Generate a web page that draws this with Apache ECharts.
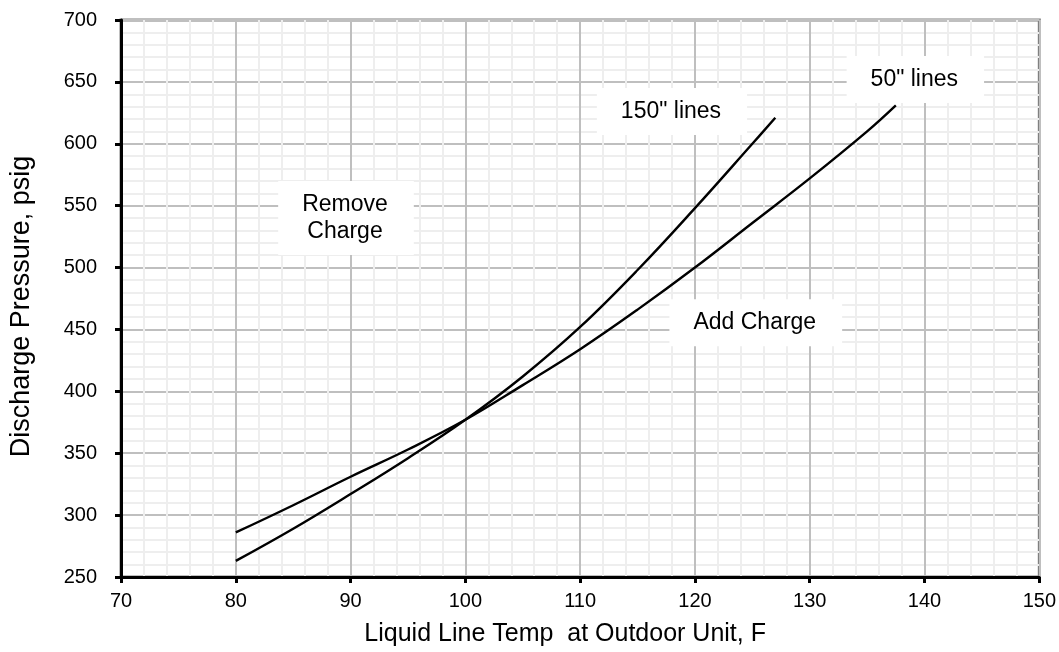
<!DOCTYPE html>
<html>
<head>
<meta charset="utf-8">
<script src="https://cdn.jsdelivr.net/npm/echarts@6/dist/echarts.min.js"></script>
<style>
html,body{margin:0;padding:0;background:#fff;}
#chart{width:1059px;height:652px;}
</style>
</head>
<body>
<div id="chart"></div>
<script>
// Data
var temps50 = [80, 85, 90, 95, 100, 105, 110, 115, 120, 125, 130, 135, 137.5];
var press50 = [286, 308, 331, 353, 377, 405, 434, 466, 500, 536, 572, 610, 631];
var temps150 = [80, 85, 90, 95, 100, 105, 110, 115, 120, 125, 127];
var press150 = [263, 289, 317, 346, 377, 412, 452, 498, 548, 600, 621];
var xTicks = [70, 80, 90, 100, 110, 120, 130, 140, 150];
var yTicks = [250, 300, 350, 400, 450, 500, 550, 600, 650, 700];
var annotations = [
  {text: '150" lines', x: 118.0, y: 626},
  {text: '50" lines', x: 139.2, y: 652},
  {text: 'Remove\nCharge', x: 89.6, y: 540},
  {text: 'Add Charge', x: 125.3, y: 455.5}
];

function pairs(xs, ys) { return xs.map(function (x, i) { return [x, ys[i]]; }); }

var FONT = '"Liberation Sans", Arial, sans-serif';
var chart = echarts.init(document.getElementById('chart'), null, {renderer: 'canvas'});
var option = {
  animation: false,
  backgroundColor: '#ffffff',
  grid: {left: 119, right: 18, top: 20, bottom: 74, show: true, borderColor: '#808080', borderWidth: 3, backgroundColor: 'transparent'},
  xAxis: {
    type: 'value', min: xTicks[0], max: xTicks[xTicks.length - 1], interval: 10,
    name: 'Liquid Line Temp  at Outdoor Unit, F', nameLocation: 'middle', nameGap: 45,
    nameTextStyle: {fontFamily: FONT, fontSize: 25, color: '#000', padding: [0, 30, 0, 0]},
    axisLine: {show: true, onZero: false, lineStyle: {color: '#000', width: 3}},
    axisTick: {show: true, length: 6, lineStyle: {color: '#000', width: 3}},
    axisLabel: {fontFamily: FONT, fontSize: 20, color: '#000', margin: 14},
    splitLine: {show: true, lineStyle: {color: '#bfbfbf', width: 2}},
    minorTick: {show: false, splitNumber: 5},
    minorSplitLine: {show: true, lineStyle: {color: '#eeeeee', width: 2}}
  },
  yAxis: {
    type: 'value', min: yTicks[0], max: yTicks[yTicks.length - 1], interval: 50,
    name: 'Discharge Pressure, psig', nameLocation: 'middle', nameGap: 86, nameRotate: 90,
    nameTextStyle: {fontFamily: FONT, fontSize: 27, color: '#000', padding: [0, 16, 0, 0]},
    axisLine: {show: true, onZero: false, lineStyle: {color: '#000', width: 3}},
    axisTick: {show: true, length: 6, lineStyle: {color: '#000', width: 3}},
    axisLabel: {fontFamily: FONT, fontSize: 20, color: '#000', margin: 24},
    splitLine: {show: true, lineStyle: {color: '#bfbfbf', width: 2}},
    minorTick: {show: false, splitNumber: 5},
    minorSplitLine: {show: true, lineStyle: {color: '#eeeeee', width: 2}}
  },
  series: [
    {name: '50" lines', type: 'line', data: pairs(temps50, press50), smooth: 0.4, showSymbol: false, symbol: 'none',
     lineStyle: {color: '#000', width: 2.4}},
    {name: '150" lines', type: 'line', data: pairs(temps150, press150), smooth: 0.4, showSymbol: false, symbol: 'none',
     lineStyle: {color: '#000', width: 2.4}}
  ]
};
chart.setOption(option);

var g = annotations.map(function (a) {
  var p = chart.convertToPixel({gridIndex: 0}, [a.x, a.y]);
  return {
    type: 'text', x: p[0], y: p[1], z: 100,
    style: {
      text: a.text, font: '23px ' + FONT, fill: '#000', align: 'center', verticalAlign: 'middle',
      lineHeight: 27, backgroundColor: '#ffffff', padding: [10, 26, 10, 24]
    }
  };
});
chart.setOption({graphic: g});
</script>
</body>
</html>
